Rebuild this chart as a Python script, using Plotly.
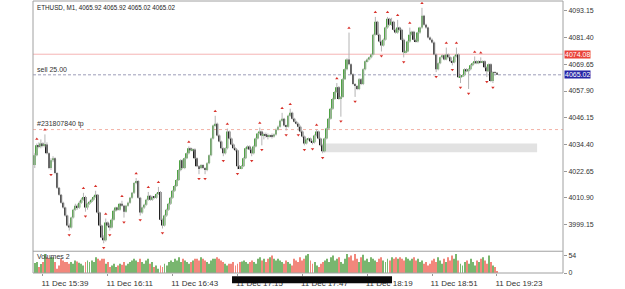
import numpy as np
import pandas as pd
import plotly.graph_objects as go

# ---------------- data ----------------
symbol_title = "ETHUSD, M1, 4065.92 4065.92 4065.02 4065.02"
start_time = "2024-12-11 15:35"

open_prices = [
4025.3, 4029.6, 4034.0, 4033.5, 4034.8, 4034.0, 4034.4, 4030.5, 4024.0, 4027.4,
4028.3, 4021.8, 4015.3, 4012.2, 4008.7, 4006.6, 4003.1, 3998.7, 3997.8, 4002.2,
4005.7, 4007.4, 4006.6, 4008.7, 4010.0, 4011.3, 4006.6, 4008.3, 4009.2, 4010.0,
4011.3, 4012.2, 4004.4, 3998.7, 3993.5, 3992.2, 4000.0, 3998.7, 3997.8, 4001.3,
4005.2, 4006.6, 4005.7, 4008.3, 4007.4, 4004.8, 4007.4, 4008.7, 4010.9, 4013.1,
4017.4, 4018.3, 4010.9, 4004.4, 4006.6, 4007.8, 4010.0, 4011.8, 4010.0, 4011.3,
4010.9, 4012.6, 4013.5, 4001.3, 3998.7, 4003.1, 4005.7, 4008.3, 4010.9, 4014.0,
4016.1, 4018.7, 4023.1, 4027.4, 4024.0, 4028.3, 4030.5, 4032.7, 4031.8, 4032.2,
4028.3, 4024.8, 4024.0, 4025.3, 4024.0, 4023.1, 4026.1, 4029.6, 4037.0, 4042.7,
4043.5, 4038.3, 4035.7, 4032.7, 4030.5, 4032.7, 4040.1, 4037.0, 4034.4, 4032.7,
4031.8, 4024.8, 4024.0, 4024.8, 4028.3, 4032.7, 4033.5, 4032.2, 4030.5, 4033.5,
4037.0, 4039.2, 4040.1, 4038.3, 4038.8, 4038.3, 4037.9, 4038.3, 4037.9, 4038.8,
4040.9, 4042.2, 4044.8, 4045.7, 4042.7, 4042.2, 4047.0, 4048.3, 4045.7, 4044.4,
4043.5, 4042.2, 4040.1, 4037.9, 4034.8, 4036.6, 4037.0, 4035.7, 4035.3, 4038.3,
4040.1, 4037.0, 4034.0, 4031.4, 4037.0, 4041.4, 4045.7, 4050.1, 4054.4, 4057.5,
4059.6, 4054.4, 4055.3, 4063.1, 4067.5, 4071.8, 4069.7, 4065.3, 4061.0, 4060.1,
4058.8, 4063.1, 4061.0, 4067.5, 4071.0, 4071.8, 4072.7, 4074.0, 4082.7, 4088.4,
4082.7, 4079.7, 4077.9, 4080.5, 4085.8, 4089.7, 4087.1, 4088.4, 4084.9, 4083.6,
4085.8, 4084.9, 4080.5, 4074.9, 4075.3, 4079.7, 4082.7, 4084.0, 4080.5, 4079.7,
4083.6, 4085.8, 4091.0, 4087.1, 4085.8, 4081.4, 4080.5, 4079.2, 4074.0, 4067.5,
4070.1, 4072.7, 4073.6, 4071.8, 4074.0, 4072.7, 4071.0, 4070.5, 4073.1, 4074.0,
4064.0, 4064.4, 4064.9, 4067.5, 4066.6, 4067.5, 4069.2, 4070.1, 4071.0, 4070.1,
4071.0, 4070.5, 4071.0, 4068.3, 4066.6, 4069.7, 4062.3, 4066.2, 4065.92,
]

high_prices = [
4030.5, 4034.8, 4035.3, 4036.6, 4035.3, 4038.8, 4035.3, 4030.9, 4028.3, 4029.2,
4028.7, 4022.2, 4015.7, 4012.6, 4009.2, 4007.0, 4003.5, 3999.6, 4002.6, 4006.1,
4008.3, 4008.3, 4009.6, 4010.9, 4013.1, 4011.8, 4008.7, 4009.6, 4010.5, 4011.8,
4014.0, 4012.6, 4004.8, 3999.1, 3994.4, 4001.8, 4000.5, 3999.6, 4001.8, 4005.7,
4007.0, 4007.0, 4008.7, 4009.6, 4007.8, 4007.8, 4009.2, 4011.3, 4013.5, 4017.8,
4019.6, 4018.7, 4011.3, 4007.0, 4008.3, 4010.5, 4013.5, 4012.2, 4011.8, 4011.8,
4013.1, 4015.7, 4013.9, 4001.8, 4003.5, 4006.1, 4008.7, 4011.3, 4014.4, 4016.6,
4019.2, 4023.5, 4027.9, 4027.9, 4028.7, 4030.9, 4033.5, 4033.1, 4032.7, 4032.7,
4028.7, 4025.3, 4025.7, 4025.7, 4024.4, 4026.6, 4030.0, 4037.4, 4043.1, 4047.0,
4044.0, 4038.8, 4036.1, 4033.1, 4033.1, 4041.4, 4040.5, 4037.4, 4034.8, 4033.1,
4032.2, 4025.3, 4025.3, 4028.7, 4033.1, 4034.0, 4034.0, 4032.7, 4034.0, 4037.4,
4039.6, 4041.8, 4040.5, 4039.6, 4039.6, 4039.2, 4038.8, 4039.2, 4039.2, 4041.4,
4042.7, 4045.3, 4048.3, 4046.1, 4043.1, 4047.5, 4050.1, 4048.8, 4046.1, 4044.8,
4044.0, 4042.7, 4040.5, 4038.3, 4037.0, 4037.4, 4037.4, 4036.1, 4038.8, 4040.9,
4040.5, 4037.4, 4034.4, 4037.4, 4041.8, 4046.1, 4050.5, 4054.9, 4057.9, 4061.4,
4060.1, 4055.7, 4063.6, 4067.9, 4072.3, 4083.6, 4070.1, 4065.7, 4061.4, 4060.5,
4063.6, 4063.6, 4067.9, 4071.4, 4072.3, 4073.1, 4074.4, 4083.1, 4090.5, 4088.8,
4083.1, 4080.1, 4081.0, 4086.2, 4090.5, 4090.1, 4090.1, 4088.8, 4085.3, 4089.2,
4086.2, 4085.3, 4081.0, 4075.7, 4080.1, 4085.8, 4084.4, 4084.4, 4081.0, 4084.0,
4086.2, 4094.5, 4091.4, 4087.5, 4086.2, 4081.9, 4081.0, 4079.7, 4074.4, 4070.5,
4073.1, 4074.0, 4074.0, 4077.0, 4074.4, 4073.1, 4071.4, 4073.6, 4077.0, 4074.4,
4064.9, 4065.3, 4067.9, 4067.9, 4067.9, 4069.7, 4070.5, 4073.1, 4071.4, 4071.4,
4072.7, 4071.4, 4071.4, 4068.8, 4070.1, 4070.1, 4066.6, 4066.6, 4065.92,
]

low_prices = [
4024.0, 4029.2, 4032.7, 4032.7, 4033.1, 4033.1, 4030.0, 4023.5, 4023.1, 4026.6,
4021.3, 4014.8, 4011.8, 4008.3, 4006.1, 4002.6, 3998.3, 3996.5, 3997.4, 4001.8,
4005.2, 4005.7, 4006.1, 4008.3, 4009.6, 4004.8, 4005.7, 4007.8, 4008.7, 4009.6,
4010.9, 4003.9, 3998.3, 3993.1, 3990.9, 3991.7, 3998.3, 3996.5, 3997.4, 4000.9,
4004.8, 4005.2, 4005.2, 4007.0, 4002.2, 4004.4, 4007.0, 4008.3, 4010.5, 4012.6,
4016.9, 4010.5, 4003.1, 4003.9, 4006.1, 4007.4, 4009.6, 4009.6, 4009.6, 4010.5,
4010.5, 4012.2, 4000.9, 3997.4, 3998.3, 4002.6, 4005.2, 4007.8, 4010.5, 4013.5,
4015.7, 4018.3, 4022.6, 4023.5, 4023.5, 4027.9, 4030.0, 4031.3, 4031.3, 4027.9,
4024.4, 4021.3, 4023.5, 4023.5, 4021.3, 4022.6, 4025.7, 4029.2, 4036.6, 4042.2,
4037.9, 4035.3, 4032.2, 4029.2, 4030.0, 4032.2, 4036.6, 4034.0, 4032.2, 4031.3,
4023.5, 4023.5, 4023.5, 4024.4, 4027.9, 4032.2, 4031.8, 4029.2, 4030.0, 4033.1,
4036.6, 4038.8, 4034.0, 4036.6, 4037.4, 4036.6, 4037.4, 4037.0, 4037.4, 4038.3,
4040.5, 4041.8, 4044.4, 4042.2, 4040.5, 4041.8, 4046.6, 4045.3, 4044.0, 4043.1,
4040.5, 4039.6, 4037.4, 4034.0, 4034.4, 4036.1, 4035.3, 4034.4, 4034.8, 4037.9,
4036.6, 4033.5, 4030.5, 4030.9, 4036.6, 4040.9, 4045.3, 4049.6, 4054.0, 4057.0,
4054.0, 4046.6, 4054.9, 4062.7, 4067.0, 4069.2, 4064.9, 4060.5, 4055.3, 4058.3,
4058.3, 4060.5, 4060.5, 4067.0, 4070.5, 4071.4, 4072.3, 4073.6, 4082.3, 4082.3,
4079.2, 4075.3, 4077.5, 4080.1, 4085.3, 4086.6, 4086.6, 4084.4, 4083.1, 4083.1,
4084.4, 4080.1, 4072.7, 4074.4, 4074.9, 4079.2, 4082.3, 4080.1, 4079.2, 4079.2,
4083.1, 4085.3, 4086.6, 4085.3, 4081.0, 4080.1, 4078.8, 4073.6, 4066.2, 4067.0,
4069.7, 4072.3, 4071.4, 4071.4, 4072.3, 4070.5, 4069.2, 4070.1, 4072.7, 4063.6,
4061.4, 4064.0, 4064.4, 4066.2, 4058.8, 4067.0, 4068.8, 4069.7, 4069.7, 4069.7,
4070.1, 4070.1, 4067.9, 4064.0, 4066.2, 4061.8, 4061.4, 4065.5, 4065.02,
]

close_prices = [
4029.6, 4034.0, 4033.5, 4034.8, 4034.0, 4034.4, 4030.5, 4024.0, 4027.4, 4028.3,
4021.8, 4015.3, 4012.2, 4008.7, 4006.6, 4003.1, 3998.7, 3997.8, 4002.2, 4005.7,
4007.4, 4006.6, 4008.7, 4010.0, 4011.3, 4006.6, 4008.3, 4009.2, 4010.0, 4011.3,
4012.2, 4004.4, 3998.7, 3993.5, 3992.2, 4000.0, 3998.7, 3997.8, 4001.3, 4005.2,
4006.6, 4005.7, 4008.3, 4007.4, 4004.8, 4007.4, 4008.7, 4010.9, 4013.1, 4017.4,
4018.3, 4010.9, 4004.4, 4006.6, 4007.8, 4010.0, 4011.8, 4010.0, 4011.3, 4010.9,
4012.6, 4013.5, 4001.3, 3998.7, 4003.1, 4005.7, 4008.3, 4010.9, 4014.0, 4016.1,
4018.7, 4023.1, 4027.4, 4024.0, 4028.3, 4030.5, 4032.7, 4031.8, 4032.2, 4028.3,
4024.8, 4024.0, 4025.3, 4024.0, 4023.1, 4026.1, 4029.6, 4037.0, 4042.7, 4043.5,
4038.3, 4035.7, 4032.7, 4030.5, 4032.7, 4040.1, 4037.0, 4034.4, 4032.7, 4031.8,
4024.8, 4024.0, 4024.8, 4028.3, 4032.7, 4033.5, 4032.2, 4030.5, 4033.5, 4037.0,
4039.2, 4040.1, 4038.3, 4038.8, 4038.3, 4037.9, 4038.3, 4037.9, 4038.8, 4040.9,
4042.2, 4044.8, 4045.7, 4042.7, 4042.2, 4047.0, 4048.3, 4045.7, 4044.4, 4043.5,
4042.2, 4040.1, 4037.9, 4034.8, 4036.6, 4037.0, 4035.7, 4035.3, 4038.3, 4040.1,
4037.0, 4034.0, 4031.4, 4037.0, 4041.4, 4045.7, 4050.1, 4054.4, 4057.5, 4059.6,
4054.4, 4055.3, 4063.1, 4067.5, 4071.8, 4069.7, 4065.3, 4061.0, 4060.1, 4058.8,
4063.1, 4061.0, 4067.5, 4071.0, 4071.8, 4072.7, 4074.0, 4082.7, 4088.4, 4082.7,
4079.7, 4077.9, 4080.5, 4085.8, 4089.7, 4087.1, 4088.4, 4084.9, 4083.6, 4085.8,
4084.9, 4080.5, 4074.9, 4075.3, 4079.7, 4082.7, 4084.0, 4080.5, 4079.7, 4083.6,
4085.8, 4091.0, 4087.1, 4085.8, 4081.4, 4080.5, 4079.2, 4074.0, 4067.5, 4070.1,
4072.7, 4073.6, 4071.8, 4074.0, 4072.7, 4071.0, 4070.5, 4073.1, 4074.0, 4064.0,
4064.4, 4064.9, 4067.5, 4066.6, 4067.5, 4069.2, 4070.1, 4071.0, 4070.1, 4071.0,
4070.5, 4071.0, 4068.3, 4066.6, 4069.7, 4062.3, 4066.2, 4065.9, 4065.02,
]

volumes = [
30, 33, 18, 27, 33, 58, 48, 43, 48, 48, 33, 13, 23, 43, 38, 33, 33, 28,
33, 28, 38, 35, 31, 28, 23, 33, 38, 33, 38, 33, 48, 43, 38, 43,
43, 28, 33, 18, 23, 28, 18, 23, 28, 25, 33, 23, 28, 33, 38, 43,
38, 33, 43, 33, 28, 38, 43, 28, 33, 18, 23, 13, 23, 18, 28, 23, 33,
38, 33, 43, 38, 48, 33, 43, 38, 33, 28, 33, 38, 43, 43, 38, 48, 43, 38, 33, 28,
38, 43, 43, 48, 43, 38, 33, 28, 23, 28,
28, 33, 23, 28, 33, 35, 38, 33, 28, 33, 38, 33, 28,
43, 48, 38, 43, 33, 43, 48, 53, 43, 38,
43, 38, 33, 28, 38, 33, 28, 23, 43, 38, 33, 48, 38,
43, 53, 58, 38, 28, 33, 23, 18, 28, 33,
38, 43, 33, 48, 53, 38, 43, 48, 33, 28, 43,
58, 48, 53, 38, 58, 43, 33, 48, 55,
38, 43, 33, 48, 43, 38, 33, 43, 48, 38, 33, 43, 38, 48,
43, 48, 43, 48, 43, 38, 48, 43, 38, 43, 48, 38, 43, 33,
38, 28, 33, 23, 28, 38,
43, 33, 48, 38, 28, 43, 33, 48, 38, 53, 43, 58,
38, 28, 23, 33, 38, 28, 43, 33, 23, 38, 33,
43, 48, 38, 28, 53, 33, 23, 18, 6,
]

up_fractals = [1, 5, 24, 30, 35, 43, 50, 56, 61, 76, 89, 95, 111, 122, 126,
               139, 149, 155, 168, 174, 179, 185, 191, 203, 208, 217, 220]
down_fractals = [8, 17, 25, 34, 37, 44, 52, 63, 81, 84, 93, 100, 107, 112, 124,
                 130, 133, 137, 142, 151, 158, 171, 182, 198, 206, 210, 214, 223, 226]

price_ticks = [3999.15, 4010.90, 4022.65, 4034.40, 4046.15, 4057.90, 4069.65, 4081.40, 4093.15]
volume_ticks = [0, 54]
time_ticks = ["2024-12-11 15:39", "2024-12-11 16:11", "2024-12-11 16:43", "2024-12-11 17:15",
              "2024-12-11 17:47", "2024-12-11 18:19", "2024-12-11 18:51", "2024-12-11 19:23"]
time_tick_text = ["11 Dec 15:39", "11 Dec 16:11", "11 Dec 16:43", "11 Dec 17:15",
                  "11 Dec 17:47", "11 Dec 18:19", "11 Dec 18:51", "11 Dec 19:23"]

alert_level = 4074.08
bid_level = 4065.02
tp_level = 4040.93
order_label = "sell 25.00"
tp_label = "#231807840 tp"
zone_start, zone_end = "2024-12-11 17:56:30", "2024-12-11 19:42:48"
zone_low, zone_high = 4030.9, 4034.8

x_range = ["2024-12-11 15:34:07", "2024-12-11 19:55:34"]
price_range = [3987.4, 4097.5]
volume_range = [0, 66]

# ---------------- build ----------------
O = np.array(open_prices); H = np.array(high_prices)
L = np.array(low_prices); C = np.array(close_prices)
n = len(C)
times = pd.date_range(start_time, periods=n, freq="min")

GREEN = "#4fa244"
DARK = "#1e1e1e"
WICK = "#b4b4b4"
RED = "#d8312a"
FONT = "Liberation Sans, Arial, sans-serif"

wx, wy = [], []
for t, h, l in zip(times, H, L):
    wx += [t, t, None]
    wy += [l, h, None]

bull = C > O
body_colors = [GREEN if b else DARK for b in bull]

fig = go.Figure()
fig.add_trace(go.Scatter(x=wx, y=wy, mode="lines", line=dict(color=WICK, width=1),
                         hoverinfo="skip", yaxis="y"))
fig.add_trace(go.Bar(x=times, y=np.abs(C - O), base=np.minimum(O, C),
                     marker=dict(color=body_colors, line=dict(width=0)),
                     width=58000, yaxis="y"))
fig.add_trace(go.Scatter(x=times[up_fractals], y=H[up_fractals] + 2.0, mode="markers",
                         marker=dict(symbol="triangle-up", size=3, color=RED), yaxis="y"))
fig.add_trace(go.Scatter(x=times[down_fractals], y=L[down_fractals] - 2.0, mode="markers",
                         marker=dict(symbol="triangle-down", size=3, color=RED), yaxis="y"))
vol_colors = ["#62aa56" if c >= o else "#f07366" for o, c in zip(O, C)]
fig.add_trace(go.Bar(x=times, y=volumes, marker=dict(color=vol_colors, line=dict(width=0)),
                     opacity=0.85, width=28000, yaxis="y2"))

axis_font = dict(family=FONT, size=7, color="#333333")
fig.update_layout(
    width=625, height=289, margin=dict(l=33, r=62, t=1, b=13),
    paper_bgcolor="white", plot_bgcolor="white", showlegend=False,
    barmode="overlay", hovermode=False,
    xaxis=dict(type="date", range=x_range, anchor="y2", domain=[0, 1],
               tickvals=time_ticks, ticktext=time_tick_text, ticks="outside",
               ticklen=2, tickcolor="#999999", tickfont=dict(family=FONT, size=8, color="#333333"),
               showgrid=False, zeroline=False, showline=False, ticklabelshift=22,
               ticklabelstandoff=0),
    yaxis=dict(domain=[0.08, 1], range=price_range, side="right", anchor="x",
               tickvals=price_ticks, ticktext=[f"{v:.2f}" for v in price_ticks],
               ticks="outside", ticklen=3, tickcolor="#999999", tickfont=axis_font,
               showgrid=False, zeroline=False, showline=False),
    yaxis2=dict(domain=[0, 0.08], range=volume_range, side="right", anchor="x",
                tickvals=volume_ticks, ticktext=[str(v) for v in volume_ticks],
                ticks="outside", ticklen=3, tickcolor="#999999", tickfont=axis_font,
                showgrid=False, zeroline=False, showline=False),
)

shapes = [
    dict(type="rect", xref="x", yref="y", x0=zone_start, x1=zone_end, y0=zone_low, y1=zone_high,
         fillcolor="#e2e2e2", line=dict(width=0), layer="below"),
    dict(type="line", xref="paper", yref="y", x0=0, x1=1, y0=alert_level, y1=alert_level,
         line=dict(color="#f5b5b5", width=1), layer="below"),
    dict(type="line", xref="paper", yref="y", x0=0, x1=1, y0=bid_level, y1=bid_level,
         line=dict(color="#9c9cb8", width=1, dash="3px,2px"), layer="below"),
    dict(type="line", xref="paper", yref="y", x0=0, x1=1, y0=tp_level, y1=tp_level,
         line=dict(color="#f3b2a6", width=1, dash="3px,3px"), layer="below"),
    dict(type="rect", xref="paper", yref="paper", x0=0, x1=1, y0=0, y1=1,
         line=dict(color="#a0a0a0", width=1)),
    dict(type="line", xref="paper", yref="paper", x0=0, x1=1, y0=0.08, y1=0.08,
         line=dict(color="#a0a0a0", width=1)),
    # redaction stroke over the time labels
    dict(type="line", xref="paper", yref="paper", x0=0.3755, x1=0.6774, y0=-0.025, y1=-0.025,
         line=dict(color="#0a0a0a", width=7), layer="above"),
]
fig.update_layout(shapes=shapes)

small = dict(family=FONT, size=7, color="#333333")
annotations = [
    dict(text=symbol_title, xref="paper", yref="paper", x=0.003, y=1, xanchor="left",
         yanchor="top", yshift=-1, showarrow=False, font=dict(family=FONT, size=6.3, color="#222222")),
    dict(text="Volumes 2", xref="paper", yref="paper", x=0.003, y=0.08, xanchor="left",
         yanchor="top", yshift=0, showarrow=False, font=small),
    dict(text=order_label, xref="paper", yref="y", x=0.003, y=bid_level, xanchor="left",
         yanchor="bottom", yshift=0, showarrow=False, font=small),
    dict(text=tp_label, xref="paper", yref="y", x=0.003, y=tp_level, xanchor="left",
         yanchor="bottom", yshift=0, showarrow=False, font=small),
    dict(text=f"{alert_level:.2f}", xref="paper", yref="y", x=1, y=alert_level, xanchor="left",
         yanchor="middle", xshift=1, showarrow=False, bgcolor="#e9443a", borderpad=0,
         font=dict(family=FONT, size=7, color="white")),
    dict(text=f"{bid_level:.2f}", xref="paper", yref="y", x=1, y=bid_level, xanchor="left",
         yanchor="middle", xshift=1, showarrow=False, bgcolor="#2626a6", borderpad=0,
         font=dict(family=FONT, size=7, color="white")),
]
fig.update_layout(annotations=annotations)

fig.write_html("out.html", config={"displayModeBar": False})
